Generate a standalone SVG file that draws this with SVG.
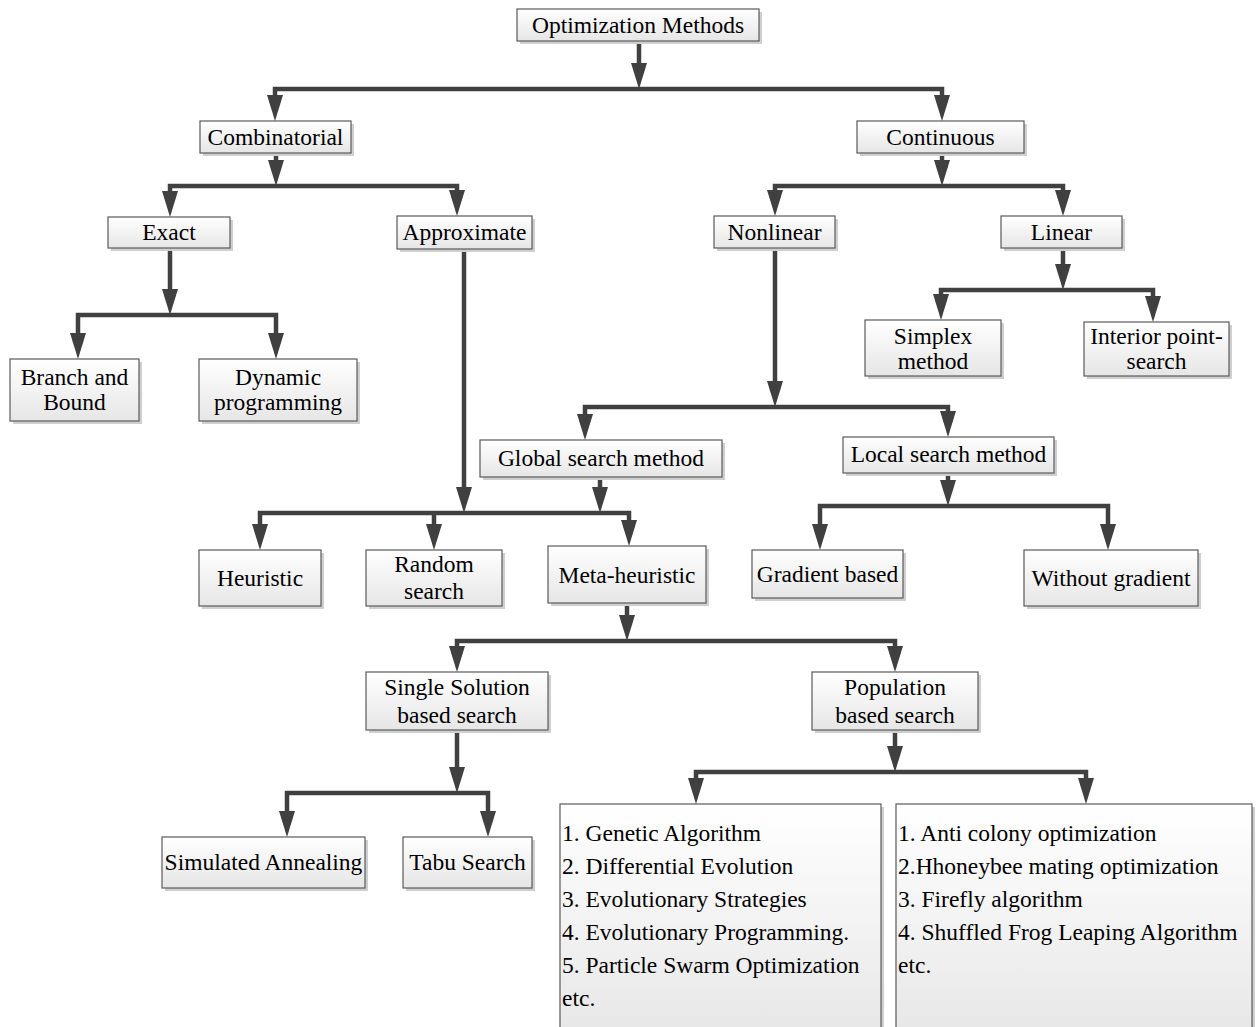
<svg xmlns="http://www.w3.org/2000/svg" width="1259" height="1027" viewBox="0 0 1259 1027">
<defs>
<linearGradient id="g" x1="0" y1="0" x2="0" y2="1">
<stop offset="0" stop-color="#ffffff"/>
<stop offset="1" stop-color="#e6e6e6"/>
</linearGradient>
<marker id="ar" markerUnits="userSpaceOnUse" viewBox="0 0 26 16" markerWidth="26" markerHeight="16" refX="16" refY="8" orient="auto-start-reverse">
<path d="M0,0 L26,8 L0,16 z" fill="#404040"/>
</marker>
</defs>
<style>
.sh{fill:#cfcfcf}
.bx{fill:url(#g);stroke:#5a5a5a;stroke-width:1.2}
text{font-family:"Liberation Serif","Times New Roman",serif;font-size:23.5px;fill:#000}
.c{text-anchor:middle}
.cn path{fill:none;stroke:#404040;stroke-width:4.5;stroke-linejoin:miter;marker-end:url(#ar)}
.cn path.b{marker-start:url(#ar)}
</style>
<rect width="1259" height="1027" fill="#fff"/>
<g id="connectors" class="cn">
<path d="M639,41 V79"/>
<path class="b" d="M275,111 V89 H942 V111"/>
<path d="M276,153 V176"/>
<path class="b" d="M170,207 V186 H457 V206"/>
<path d="M170,248 V305"/>
<path class="b" d="M78,349 V315 H276 V349"/>
<path d="M464,250 V503"/>
<path d="M942,153 V176"/>
<path class="b" d="M775,206 V186 H1063 V206"/>
<path d="M1063,248 V280"/>
<path class="b" d="M941,310 V290 H1153 V312"/>
<path d="M775,248 V397"/>
<path class="b" d="M585,430 V407 H948 V427"/>
<path d="M600,477 V503"/>
<path class="b" d="M260,540 V513 H629 V536"/>
<path d="M434,513 V540"/>
<path d="M948,473 V496"/>
<path class="b" d="M820,540 V506 H1108 V540"/>
<path d="M627,603 V631"/>
<path class="b" d="M457,662 V641 H895 V662"/>
<path d="M457,730 V783"/>
<path class="b" d="M287,827 V793 H488 V827"/>
<path d="M895,730 V762"/>
<path class="b" d="M696,794 V772 H1086 V794"/>
</g>
<g id="n-opt"><rect class="sh" x="520" y="12" width="242" height="32"/><rect class="bx" x="517" y="9" width="242" height="32"/><text class="c" x="638" y="33">Optimization Methods</text></g>
<g id="n-comb"><rect class="sh" x="203" y="124" width="151" height="32"/><rect class="bx" x="200" y="121" width="151" height="32"/><text class="c" x="275.5" y="145">Combinatorial</text></g>
<g id="n-cont"><rect class="sh" x="860" y="124" width="167" height="32"/><rect class="bx" x="857" y="121" width="167" height="32"/><text class="c" x="940.5" y="145">Continuous</text></g>
<g id="n-exact"><rect class="sh" x="111" y="220" width="122" height="31"/><rect class="bx" x="108" y="217" width="122" height="31"/><text class="c" x="169" y="240">Exact</text></g>
<g id="n-approx"><rect class="sh" x="400" y="219" width="135" height="33"/><rect class="bx" x="397" y="216" width="135" height="33"/><text class="c" x="464.5" y="240">Approximate</text></g>
<g id="n-nonlin"><rect class="sh" x="717" y="219" width="121" height="32"/><rect class="bx" x="714" y="216" width="121" height="32"/><text class="c" x="774.5" y="240">Nonlinear</text></g>
<g id="n-lin"><rect class="sh" x="1004" y="219" width="121" height="32"/><rect class="bx" x="1001" y="216" width="121" height="32"/><text class="c" x="1061.5" y="240">Linear</text></g>
<g id="n-bb"><rect class="sh" x="13" y="362" width="129" height="62"/><rect class="bx" x="10" y="359" width="129" height="62"/><text class="c" x="74.5" y="385">Branch and</text><text class="c" x="74.5" y="410">Bound</text></g>
<g id="n-dp"><rect class="sh" x="202" y="362" width="158" height="62"/><rect class="bx" x="199" y="359" width="158" height="62"/><text class="c" x="278" y="385">Dynamic</text><text class="c" x="278" y="410">programming</text></g>
<g id="n-simplex"><rect class="sh" x="868" y="323" width="136" height="56"/><rect class="bx" x="865" y="320" width="136" height="56"/><text class="c" x="933" y="344">Simplex</text><text class="c" x="933" y="369">method</text></g>
<g id="n-interior"><rect class="sh" x="1087" y="325" width="145" height="54"/><rect class="bx" x="1084" y="322" width="145" height="54"/><text class="c" x="1156.5" y="344">Interior point-</text><text class="c" x="1156.5" y="369">search</text></g>
<g id="n-global"><rect class="sh" x="483" y="443" width="242" height="37"/><rect class="bx" x="480" y="440" width="242" height="37"/><text class="c" x="601" y="466">Global search method</text></g>
<g id="n-local"><rect class="sh" x="846" y="440" width="211" height="36"/><rect class="bx" x="843" y="437" width="211" height="36"/><text class="c" x="948.5" y="462">Local search method</text></g>
<g id="n-heur"><rect class="sh" x="202" y="553" width="122" height="56"/><rect class="bx" x="199" y="550" width="122" height="56"/><text class="c" x="260" y="586">Heuristic</text></g>
<g id="n-random"><rect class="sh" x="369" y="553" width="136" height="56"/><rect class="bx" x="366" y="550" width="136" height="56"/><text class="c" x="434" y="572">Random</text><text class="c" x="434" y="599">search</text></g>
<g id="n-meta"><rect class="sh" x="551" y="549" width="158" height="57"/><rect class="bx" x="548" y="546" width="158" height="57"/><text class="c" x="627" y="583">Meta-heuristic</text></g>
<g id="n-grad"><rect class="sh" x="755" y="553" width="151" height="48"/><rect class="bx" x="752" y="550" width="151" height="48"/><text class="c" x="827.5" y="582">Gradient based</text></g>
<g id="n-wograd"><rect class="sh" x="1027" y="553" width="174" height="56"/><rect class="bx" x="1024" y="550" width="174" height="56"/><text class="c" x="1111" y="586">Without gradient</text></g>
<g id="n-single"><rect class="sh" x="369" y="675" width="182" height="58"/><rect class="bx" x="366" y="672" width="182" height="58"/><text class="c" x="457" y="695">Single Solution</text><text class="c" x="457" y="723">based search</text></g>
<g id="n-pop"><rect class="sh" x="815" y="675" width="166" height="58"/><rect class="bx" x="812" y="672" width="166" height="58"/><text class="c" x="895" y="695">Population</text><text class="c" x="895" y="723">based search</text></g>
<g id="n-sa"><rect class="sh" x="165" y="840" width="203" height="51"/><rect class="bx" x="162" y="837" width="203" height="51"/><text class="c" x="263.5" y="870">Simulated Annealing</text></g>
<g id="n-tabu"><rect class="sh" x="406" y="840" width="129" height="51"/><rect class="bx" x="403" y="837" width="129" height="51"/><text class="c" x="467.5" y="870">Tabu Search</text></g>
<g id="n-list1"><rect class="sh" x="563" y="807" width="321" height="240"/><rect class="bx" x="560" y="804" width="321" height="240"/>
<text x="562" y="841">1. Genetic Algorithm</text>
<text x="562" y="874">2. Differential Evolution</text>
<text x="562" y="907">3. Evolutionary Strategies</text>
<text x="562" y="940">4. Evolutionary Programming.</text>
<text x="562" y="973">5. Particle Swarm Optimization</text>
<text x="562" y="1006">etc.</text></g>
<g id="n-list2"><rect class="sh" x="899" y="807" width="356" height="240"/><rect class="bx" x="896" y="804" width="356" height="240"/>
<text x="898" y="841">1. Anti colony optimization</text>
<text x="898" y="874">2.Hhoneybee mating optimization</text>
<text x="898" y="907">3. Firefly algorithm</text>
<text x="898" y="940">4. Shuffled Frog Leaping Algorithm</text>
<text x="898" y="973">etc.</text></g>
</svg>
